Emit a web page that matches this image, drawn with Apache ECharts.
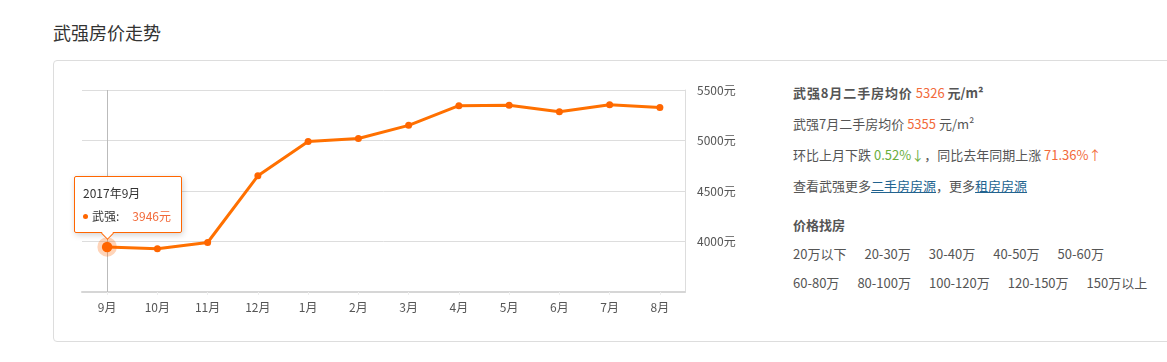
<!DOCTYPE html>
<html>
<head>
<meta charset="utf-8">
<script src="https://cdn.jsdelivr.net/npm/echarts@6/dist/echarts.min.js"></script>
<style>
  html, body { margin: 0; padding: 0; background: #fff; }
  body { width: 1167px; height: 362px; position: relative; overflow: hidden;
         font-family: "Microsoft YaHei", "Noto Sans CJK SC", sans-serif; color: #555; }
  #title { position: absolute; left: 53px; top: 20px; font-size: 18px; line-height: 24px; color: #333; }
  #box { position: absolute; left: 53px; top: 60px; width: 1130px; height: 280px;
         border: 1px solid #ddd; border-radius: 4px; box-sizing: content-box; }
  #chart { position: absolute; left: 0; top: 0; width: 760px; height: 362px; }
  #panel { position: absolute; left: 793px; top: 83px; font-size: 13px; color: #555; }
  #panel .row { height: 31px; line-height: 20px; white-space: nowrap; }
  #panel .b { font-weight: bold; }
  #panel .ls { letter-spacing: 0.9px; }
  #panel .o { color: #f26a3a; }
  #panel .g { color: #6aae3c; }
  #panel a { color: #22638f; text-decoration: underline; }
  #panel .items span { display: inline-block; margin-right: 18px; }
</style>
</head>
<body>
<div id="title">武强房价走势</div>
<div id="box"></div>
<div id="chart"></div>
<div id="panel">
  <div class="row b"><span class="ls">武强8月二手房均价</span> <span class="o" style="font-weight:normal">5326</span> 元/m²</div>
  <div class="row">武强7月二手房均价 <span class="o">5355</span> 元/m²</div>
  <div class="row">环比上月下跌 <span class="g">0.52%↓</span>，同比去年同期上涨 <span class="o">71.36%↑</span></div>
  <div class="row" style="height:39px">查看武强更多<a>二手房房源</a>，更多<a>租房房源</a></div>
  <div class="row b" style="height:29px">价格找房</div>
  <div class="row items" style="height:29px"><span>20万以下</span><span>20-30万</span><span>30-40万</span><span>40-50万</span><span>50-60万</span></div>
  <div class="row items"><span>60-80万</span><span>80-100万</span><span>100-120万</span><span>120-150万</span><span>150万以上</span></div>
</div>
<script>
const months = ['9月','10月','11月','12月','1月','2月','3月','4月','5月','6月','7月','8月'];
const fullDates = ['2017年9月','2017年10月','2017年11月','2017年12月','2018年1月','2018年2月','2018年3月','2018年4月','2018年5月','2018年6月','2018年7月','2018年8月'];
const prices = [3946, 3928, 3990, 4650, 4990, 5020, 5150, 5345, 5350, 5285, 5355, 5326];
const seriesName = '武强';
const yMin = 3500, yMax = 5500, yStep = 500;

const FONT = '"Microsoft YaHei","Noto Sans CJK SC",sans-serif';
const chart = echarts.init(document.getElementById('chart'), null, { renderer: 'canvas' });
chart.setOption({
  animation: false,
  backgroundColor: 'transparent',
  textStyle: { fontFamily: FONT },
  grid: { left: 82, top: 90, width: 603, height: 202, containLabel: false },
  tooltip: {
    trigger: 'item',
    alwaysShowContent: true,
    transitionDuration: 0,
    backgroundColor: '#fff',
    borderColor: '#f60',
    borderWidth: 1,
    borderRadius: 2,
    padding: [6, 10, 6, 8],
    extraCssText: 'box-shadow:1px 2px 6px rgba(0,0,0,0.18);',
    textStyle: { color: '#333', fontSize: 12, fontFamily: FONT },
    position: function (point) { return [point[0] - 33, point[1] - 71]; },
    formatter: function (p) {
      return '<div style="line-height:20px">' + fullDates[p.dataIndex] + '</div>' +
        '<div style="line-height:20px;margin-top:3px">' +
        '<span style="display:inline-block;width:5px;height:5px;border-radius:50%;background:#f60;margin-right:4px;vertical-align:middle;position:relative;top:-1px"></span>' +
        p.seriesName + ':<span style="margin-left:13px;color:#f26a3a">' + p.value + '元</span></div>' +
        '<div style="position:absolute;left:28px;bottom:-5.5px;width:9px;height:9px;box-sizing:border-box;background:#fff;border-right:1px solid #f60;border-bottom:1px solid #f60;transform:rotate(45deg)"></div>';
    }
  },
  xAxis: {
    type: 'category',
    data: months,
    boundaryGap: true,
    axisLine: { show: true, lineStyle: { color: '#d6d6d6', width: 2 } },
    axisTick: { show: true, alignWithLabel: true, length: 3, lineStyle: { color: '#eee' } },
    axisLabel: { color: '#555', fontSize: 12, margin: 9 },
    splitLine: { show: false }
  },
  yAxis: {
    type: 'value',
    position: 'right',
    min: yMin, max: yMax, interval: yStep,
    axisLine: { show: true, lineStyle: { color: '#ddd', width: 1 } },
    axisTick: { show: false },
    axisLabel: { color: '#555', fontSize: 12, margin: 12, showMinLabel: false,
                 formatter: function (v) { return v + '元'; } },
    splitLine: { show: true, lineStyle: { color: '#ddd', width: 1 } }
  },
  series: [{
    name: seriesName,
    type: 'line',
    data: prices,
    symbol: 'circle',
    symbolSize: 7,
    lineStyle: { color: '#f60', width: 3 },
    itemStyle: { color: '#f60' },
    emphasis: {
      scale: 1.5,
      lineStyle: { width: 3 },
      itemStyle: { color: '#f60', borderColor: 'rgba(255,102,0,0.28)', borderWidth: 9 }
    },
    markLine: {
      silent: true,
      symbol: 'none',
      label: { show: false },
      lineStyle: { color: '#bbb', width: 1, type: 'solid' },
      data: [{ xAxis: months[0] }],
      z: 1
    },
    z: 3
  }]
});
chart.dispatchAction({ type: 'highlight', seriesIndex: 0, dataIndex: 0 });
chart.dispatchAction({ type: 'showTip', seriesIndex: 0, dataIndex: 0 });
</script>
</body>
</html>
